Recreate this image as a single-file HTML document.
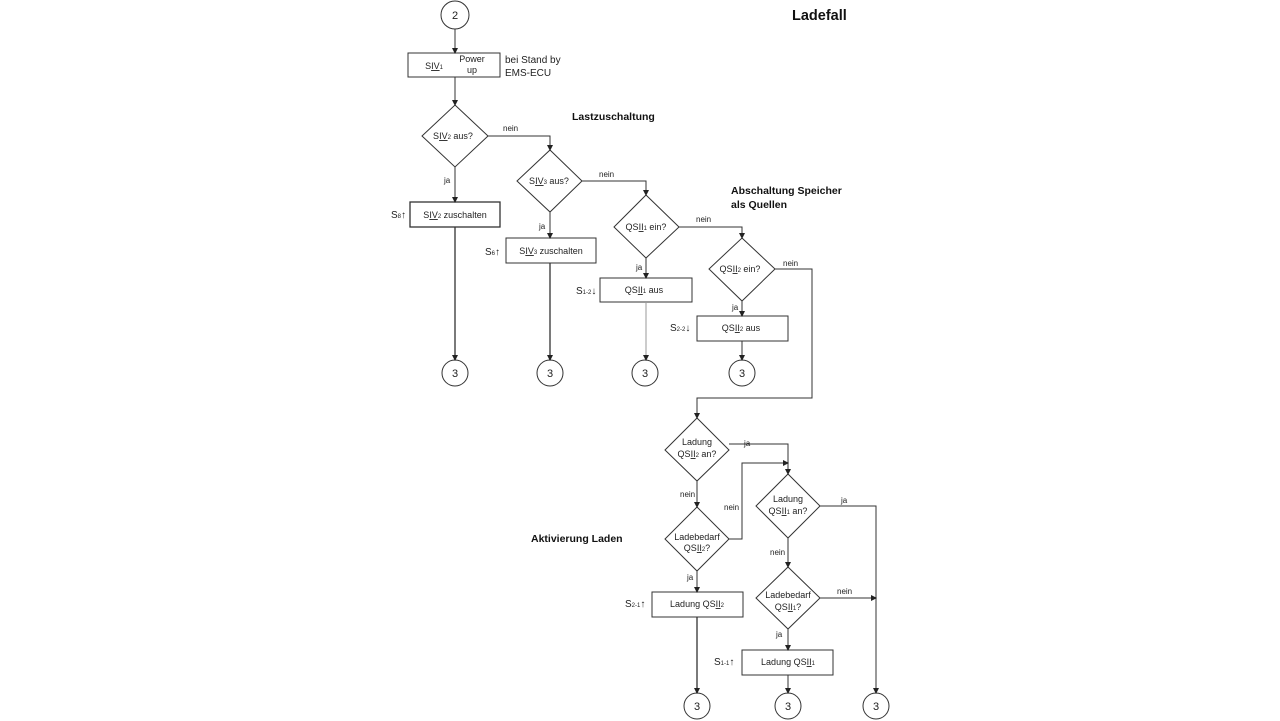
<!DOCTYPE html>
<html><head><meta charset="utf-8"><style>
html,body{margin:0;padding:0;background:#fff;}
svg{display:block;font-family:"Liberation Sans",Arial,sans-serif;}
</style></head><body>
<svg width="1280" height="721" viewBox="0 0 1280 721" xmlns="http://www.w3.org/2000/svg">
<defs>
<marker id="a" markerWidth="6" markerHeight="6" refX="5" refY="3" orient="auto" markerUnits="userSpaceOnUse">
<path d="M0,0 L6,3 L0,6 z" fill="#222"/></marker>
</defs>
<g fill="none" stroke="#333" stroke-width="1">
<circle cx="455" cy="15" r="14"/>
<rect x="408" y="53" width="92" height="24"/>
<polygon points="455,105 488,136 455,167 422,136"/>
<polygon points="550,150 582,181 550,212 517,181"/>
<rect x="410" y="202" width="90" height="25" stroke-width="1.3"/>
<rect x="506" y="238" width="90" height="25"/>
<polygon points="646,195 679,227 646,258 614,227"/>
<polygon points="742,238 775,269 742,301 709,269"/>
<rect x="600" y="278" width="92" height="24"/>
<rect x="697" y="316" width="91" height="25"/>
<circle cx="455" cy="373" r="13"/>
<circle cx="550" cy="373" r="13"/>
<circle cx="645" cy="373" r="13"/>
<circle cx="742" cy="373" r="13"/>
<polygon points="697,418 729,450 697,481 665,450"/>
<polygon points="788,474 820,506 788,538 756,506"/>
<polygon points="697,507 729,539 697,571 665,539"/>
<polygon points="788,567 820,598 788,629 756,598"/>
<rect x="652" y="592" width="91" height="25"/>
<rect x="742" y="650" width="91" height="25"/>
<circle cx="697" cy="706" r="13"/>
<circle cx="788" cy="706" r="13"/>
<circle cx="876" cy="706" r="13"/>
</g>
<g fill="none" stroke="#333" stroke-width="1">
<line x1="455" y1="29" x2="455" y2="53" marker-end="url(#a)"/>
<line x1="455" y1="77" x2="455" y2="105" marker-end="url(#a)"/>
<line x1="455" y1="167" x2="455" y2="202" marker-end="url(#a)"/>
<polyline points="488,136 550,136 550,150" marker-end="url(#a)"/>
<line x1="455" y1="227" x2="455" y2="360" marker-end="url(#a)" stroke-width="1.3"/>
<line x1="550" y1="212" x2="550" y2="238" marker-end="url(#a)"/>
<line x1="550" y1="263" x2="550" y2="360" marker-end="url(#a)" stroke-width="1.3"/>
<polyline points="582,181 646,181 646,195" marker-end="url(#a)"/>
<line x1="646" y1="258" x2="646" y2="278" marker-end="url(#a)"/>
<line x1="646" y1="302" x2="646" y2="360" marker-end="url(#a)" stroke="#999"/>
<polyline points="679,227 742,227 742,238" marker-end="url(#a)"/>
<line x1="742" y1="301" x2="742" y2="316" marker-end="url(#a)"/>
<line x1="742" y1="341" x2="742" y2="360" marker-end="url(#a)"/>
<polyline points="775,269 812,269 812,398 697,398 697,418" marker-end="url(#a)"/>
<polyline points="729,444 788,444 788,474" marker-end="url(#a)"/>
<line x1="697" y1="481" x2="697" y2="507" marker-end="url(#a)"/>
<polyline points="729,539 742,539 742,463 788,463" marker-end="url(#a)"/>
<line x1="697" y1="571" x2="697" y2="592" marker-end="url(#a)"/>
<line x1="697" y1="617" x2="697" y2="693" marker-end="url(#a)" stroke-width="1.3"/>
<polyline points="820,506 876,506 876,693" marker-end="url(#a)"/>
<line x1="788" y1="538" x2="788" y2="567" marker-end="url(#a)"/>
<line x1="820" y1="598" x2="876" y2="598" marker-end="url(#a)"/>
<line x1="788" y1="629" x2="788" y2="650" marker-end="url(#a)"/>
<line x1="788" y1="675" x2="788" y2="693" marker-end="url(#a)"/>
</g>
<g fill="#222" font-size="9" text-anchor="middle">
<text x="455" y="19" font-size="11">2</text>
<text x="550" y="377" font-size="11">3</text>
<text x="455" y="377" font-size="11">3</text>
<text x="645" y="377" font-size="11">3</text>
<text x="742" y="377" font-size="11">3</text>
<text x="697" y="710" font-size="11">3</text>
<text x="788" y="710" font-size="11">3</text>
<text x="876" y="710" font-size="11">3</text>
<text x="434" y="69">S<tspan text-decoration="underline">IV</tspan><tspan font-size="6">1</tspan></text>
<text x="472" y="62">Power</text>
<text x="472" y="73">up</text>
<text x="453" y="139">S<tspan text-decoration="underline">IV</tspan><tspan font-size="6">2</tspan> aus?</text>
<text x="549" y="184">S<tspan text-decoration="underline">IV</tspan><tspan font-size="6">3</tspan> aus?</text>
<text x="455" y="218">S<tspan text-decoration="underline">IV</tspan><tspan font-size="6">2</tspan> zuschalten</text>
<text x="551" y="254">S<tspan text-decoration="underline">IV</tspan><tspan font-size="6">3</tspan> zuschalten</text>
<text x="646" y="230">QS<tspan text-decoration="underline">II</tspan><tspan font-size="6">1</tspan> ein?</text>
<text x="740" y="272">QS<tspan text-decoration="underline">II</tspan><tspan font-size="6">2</tspan> ein?</text>
<text x="644" y="293">QS<tspan text-decoration="underline">II</tspan><tspan font-size="6">1</tspan> aus</text>
<text x="741" y="331">QS<tspan text-decoration="underline">II</tspan><tspan font-size="6">2</tspan> aus</text>
<text x="697" y="445">Ladung</text>
<text x="697" y="457">QS<tspan text-decoration="underline">II</tspan><tspan font-size="6">2</tspan> an?</text>
<text x="788" y="502">Ladung</text>
<text x="788" y="514">QS<tspan text-decoration="underline">II</tspan><tspan font-size="6">1</tspan> an?</text>
<text x="697" y="540">Ladebedarf</text>
<text x="697" y="551">QS<tspan text-decoration="underline">II</tspan><tspan font-size="6">2</tspan>?</text>
<text x="788" y="598">Ladebedarf</text>
<text x="788" y="610">QS<tspan text-decoration="underline">II</tspan><tspan font-size="6">1</tspan>?</text>
<text x="697" y="607">Ladung QS<tspan text-decoration="underline">II</tspan><tspan font-size="6">2</tspan></text>
<text x="788" y="665">Ladung QS<tspan text-decoration="underline">II</tspan><tspan font-size="6">1</tspan></text>
</g>
<g fill="#222" font-size="8">
<text x="503" y="131">nein</text>
<text x="599" y="177">nein</text>
<text x="696" y="222">nein</text>
<text x="783" y="266">nein</text>
<text x="444" y="183">ja</text>
<text x="539" y="229">ja</text>
<text x="636" y="270">ja</text>
<text x="732" y="310">ja</text>
<text x="744" y="446">ja</text>
<text x="841" y="503">ja</text>
<text x="680" y="497">nein</text>
<text x="724" y="510">nein</text>
<text x="770" y="555">nein</text>
<text x="837" y="594">nein</text>
<text x="687" y="580">ja</text>
<text x="776" y="637">ja</text>
</g>
<g fill="#222" font-size="10">
<text x="505" y="63">bei Stand by</text>
<text x="505" y="76">EMS-ECU</text>
<text x="391" y="218">S<tspan font-size="6">8</tspan>↑</text>
<text x="485" y="255">S<tspan font-size="6">6</tspan>↑</text>
<text x="576" y="294">S<tspan font-size="6">1-2</tspan>↓</text>
<text x="670" y="331">S<tspan font-size="6">2-2</tspan>↓</text>
<text x="625" y="607">S<tspan font-size="6">2-1</tspan>↑</text>
<text x="714" y="665">S<tspan font-size="6">1-1</tspan>↑</text>
</g>
<g fill="#111" font-size="10.5" font-weight="bold">
<text x="792" y="20" font-size="14.5">Ladefall</text>
<text x="572" y="120">Lastzuschaltung</text>
<text x="731" y="194">Abschaltung Speicher</text>
<text x="731" y="208">als Quellen</text>
<text x="531" y="542">Aktivierung Laden</text>
</g>
</svg>
</body></html>
